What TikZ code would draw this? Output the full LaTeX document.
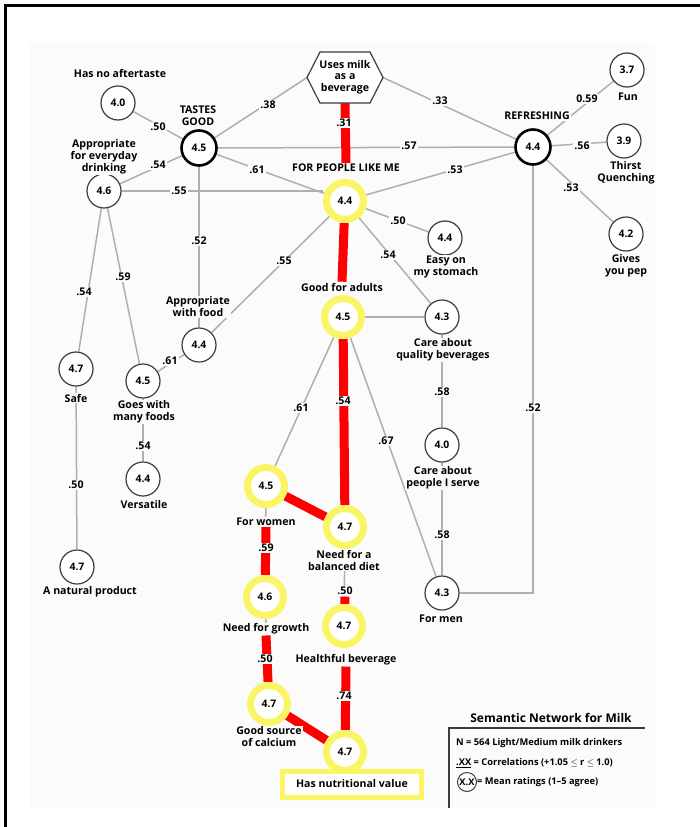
\documentclass[tikz,border=0pt]{standalone}
\usepackage{fontspec}
\setmainfont{Open Sans}
\usetikzlibrary{calc}
\pgfdeclarelayer{panel}
\pgfdeclarelayer{edges}
\pgfsetlayers{panel,edges,main}

\definecolor{bg}{RGB}{251,251,251}
\definecolor{hiyellow}{RGB}{250,245,100}
\definecolor{linkgray}{RGB}{175,175,175}
\definecolor{ringgray}{RGB}{60,60,60}

\newcommand\txtfont{\bfseries\fontsize{10.6}{12}\selectfont}
\newcommand\numfont{\bfseries\fontsize{10.4}{12}\selectfont}
\newcommand\legfont{\bfseries\fontsize{9.3}{11}\selectfont}

\tikzset{
  mean/.style={circle, draw=ringgray, line width=1.2pt, fill=white,
    minimum size=34pt, inner sep=0pt, font=\numfont},
  keymean/.style={mean, draw=black, line width=2.6pt, minimum size=35pt},
  hl/.style={mean, draw=hiyellow, line width=7pt, minimum size=37pt},
  txt/.style={font=\txtfont, align=center, fill=bg, inner sep=1pt},
  corr/.style={font=\txtfont, fill=bg, inner sep=1.5pt},
  link/.style={draw=linkgray, line width=1.5pt},
  redlink/.style={draw=red, line width=9pt},
  hexline/.style={draw=ringgray, line width=1.2pt, fill=white, line join=miter},
  hextext/.style={font=\bfseries\fontsize{10.6}{11.5}\selectfont, align=center, inner sep=0pt},
  nvbox/.style={draw=hiyellow, line width=5pt, fill=white, font=\txtfont,
    minimum width=139pt, minimum height=26pt}
}

\begin{document}
\begin{tikzpicture}[x=1pt,y=-1pt]
\useasboundingbox (0,0) rectangle (700,827);
% page frame and panel
\begin{pgfonlayer}{panel}
  \fill[bg] (30,43) rectangle (655,808);
\end{pgfonlayer}
\draw[line width=3pt] (5,835) -- (5,5) -- (710,5);

% ---- concept nodes ----
% flattened hexagon for the root concept
\coordinate (hex-w) at (307,77.5);
\coordinate (hex-e) at (383,77.5);
\coordinate (hex-s) at (345,103);
\path[hexline] (hex-w) -- (320,52) -- (370,52) -- (hex-e) -- (370,103) -- (320,103) -- cycle;
\node[hextext] (hex) at (345,77) {Uses milk\\as a\\beverage};

\node[mean] (na) at (118,103) {4.0};
\node[txt] (na-t) at (120,73) {Has no aftertaste};
\node[keymean] (tg) at (199,148) {4.5};
\node[txt] (tg-t) at (198,116) {TASTES\\GOOD};
\node[mean] (ed) at (104,191) {4.6};
\node[txt] (ed-t) at (104,157) {Appropriate\\for everyday\\drinking};

\node[keymean] (rf) at (533,147) {4.4};
\node[txt] (rf-t) at (537,116) {REFRESHING};
\node[mean] (fun) at (627,70) {3.7};
\node[txt] (fun-t) at (628,97) {Fun};
\node[mean] (tq) at (624,141) {3.9};
\node[txt] (tq-t) at (626,173) {Thirst\\Quenching};
\node[mean] (pep) at (626,234) {4.2};
\node[txt] (pep-t) at (626,266) {Gives\\you pep};

\node[hl] (fp) at (345,201) {4.4};
\node[txt] (fp-t) at (346,168) {FOR PEOPLE LIKE ME};
\node[mean] (es) at (445,238) {4.4};
\node[txt] (es-t) at (446,267) {Easy on\\my stomach};
\node[hl] (ga) at (343,317) {4.5};
\node[txt] (ga-t) at (342,287) {Good for adults};
\node[mean] (cq) at (442,317) {4.3};
\node[txt] (cq-t) at (443,350) {Care about\\quality beverages};
\node[mean] (cp) at (442,445) {4.0};
\node[txt] (cp-t) at (443,478) {Care about\\people I serve};
\node[mean] (fm) at (442,593) {4.3};
\node[txt] (fm-t) at (441,619) {For men};

\node[mean] (af) at (199,345) {4.4};
\node[txt] (af-t) at (198,307) {Appropriate\\with food};
\node[mean] (gm) at (143,381) {4.5};
\node[txt] (gm-t) at (144,412) {Goes with\\many foods};
\node[mean] (vs) at (143,479) {4.4};
\node[txt] (vs-t) at (144,505) {Versatile};
\node[mean] (sf) at (76,369) {4.7};
\node[txt] (sf-t) at (76,398) {Safe};
\node[mean] (np) at (77,567) {4.7};
\node[txt] (np-t) at (90,592) {A natural product};

\node[hl] (fw) at (266,486) {4.5};
\node[txt] (fw-t) at (266,522) {For women};
\node[hl] (bd) at (345,527) {4.7};
\node[txt] (bd-t) at (344,560) {Need for a\\balanced diet};
\node[hl] (ng) at (265,597) {4.6};
\node[txt] (ng-t) at (266,629) {Need for growth};
\node[hl] (hb) at (344,626) {4.7};
\node[txt] (hb-t) at (346,660) {Healthful beverage};
\node[hl] (sc) at (269,704) {4.7};
\node[txt] (sc-t) at (269,737) {Good source\\of calcium};
\node[hl] (nv) at (345,752) {4.7};
\node[nvbox] (nv-t) at (352,784) {Has nutritional value};

% ---- correlation values ----
\node[corr] (c-hex-tg) at (268,105) {.38};
\node[corr] (c-hex-rf) at (440,101) {.33};
\node[corr] (c-hex-fp) at (344,123) {.31};
\node[corr] (c-tg-rf) at (409,146) {.57};
\node[corr] (c-tg-fp) at (257,170) {.61};
\node[corr] (c-tg-na) at (158,127) {.50};
\node[corr] (c-tg-ed) at (158,165) {.54};
\node[corr] (c-tg-af) at (199,241) {.52};
\node[corr] (c-ed-fp) at (179,191) {.55};
\node[corr] (c-rf-fp) at (455,170) {.53};
\node[corr] (c-rf-fun) at (587,99) {0.59};
\node[corr] (c-rf-tq) at (582,146) {.56};
\node[corr] (c-rf-pep) at (571,188) {.53};
\node[corr] (c-rf-fm) at (533,408) {.52};
\node[corr] (c-fp-es) at (398,221) {.50};
\node[corr] (c-fp-cq) at (388,255) {.54};
\node[corr] (c-fp-af) at (284,261) {.55};
\node[corr] (c-ed-sf) at (84,292) {.54};
\node[corr] (c-ed-gm) at (123,277) {.59};
\node[corr] (c-af-gm) at (170,361) {.61};
\node[corr] (c-gm-vs) at (143,446) {.54};
\node[corr] (c-sf-np) at (76,485) {.50};
\node[corr] (c-ga-fw) at (301,408) {.61};
\node[corr] (c-ga-bd) at (343,401) {.54};
\node[corr] (c-ga-fm) at (386,441) {.67};
\node[corr] (c-cq-cp) at (442,392) {.58};
\node[corr] (c-cp-fm) at (442,535) {.58};
\node[corr] (c-fw-ng) at (266,548) {.59};
\node[corr] (c-bd-hb) at (345,591) {.50};
\node[corr] (c-ng-sc) at (265,659) {.50};
\node[corr] (c-hb-nv) at (344,696) {.74};

% ---- connectors ----
\begin{pgfonlayer}{edges}
  \draw[link] (hex-w) -- (tg);
  \draw[link] (hex-e) -- (rf);
  \draw[link] (tg) -- (rf);
  \draw[link] (tg) -- (fp);
  \draw[link] (tg) -- (na);
  \draw[link] (tg) -- (ed);
  \draw[link] (tg) -- (af);
  \draw[link] (ed.east) -- (ed.east -| fp.west);
  \draw[link] (rf) -- (fp);
  \draw[link] (rf) -- (fun);
  \draw[link] (rf) -- (tq);
  \draw[link] (rf) -- (pep);
  \draw[link] (rf.south) -- (rf.south |- fm.east) -- (fm.east);
  \draw[link] (fp) -- (es);
  \draw[link] (fp) -- (cq);
  \draw[link] (fp) -- (af);
  \draw[link] (ed) -- (sf);
  \draw[link] (ed) -- (gm);
  \draw[link] (af) -- (gm);
  \draw[link] (gm) -- (vs);
  \draw[link] (sf) -- (np);
  \draw[link] (ga) -- (cq);
  \draw[link] (ga) -- (fw);
  \draw[link] (ga) -- (fm);
  \draw[link] (cq) -- (cp);
  \draw[link] (cp) -- (fm);
  \draw[link] (fw) -- (ng);
  \draw[link] (bd) -- (hb);
  \draw[link] (ng) -- (sc);
  % strongest chain
  \draw[redlink] (hex-s) -- (fp-t.north);
  \draw[redlink] (fp) -- (ga-t.north);
  \draw[redlink] (ga) -- (bd);
  \draw[redlink] (fw) -- (bd);
  \draw[redlink] (fw-t.south) -- (ng);
  \draw[redlink] (c-bd-hb.south) -- (hb);
  \draw[redlink] (ng-t.south) -- (sc);
  \draw[redlink] (hb-t.south) -- (nv);
  \draw[redlink] (sc) -- (nv);
\end{pgfonlayer}

% ---- key ----
\node[font=\bfseries\fontsize{12}{14}\selectfont] (lg-title) at (551,718) {Semantic Network for Milk};
\draw[line width=1.6pt, ringgray] (449,808) -- (449,728) -- (645,728);
\node[font=\legfont, anchor=west, inner sep=0pt] (lg-n) at (456,743) {N = 564 Light/Medium milk drinkers};
\node[font=\legfont, anchor=west, inner sep=0pt] (lg-r) at (456,763) {\underline{.XX} = Correlations (+1.05 $\le$ r $\le$ 1.0)};
\node[circle, draw=ringgray, line width=1pt, inner sep=0pt, minimum size=19pt, font=\legfont] (lg-c) at (467,782) {X.X};
\node[font=\legfont, anchor=west, inner sep=0pt] (lg-m) at (lg-c.east) {= Mean ratings (1–5 agree)};
\end{tikzpicture}
\end{document}
